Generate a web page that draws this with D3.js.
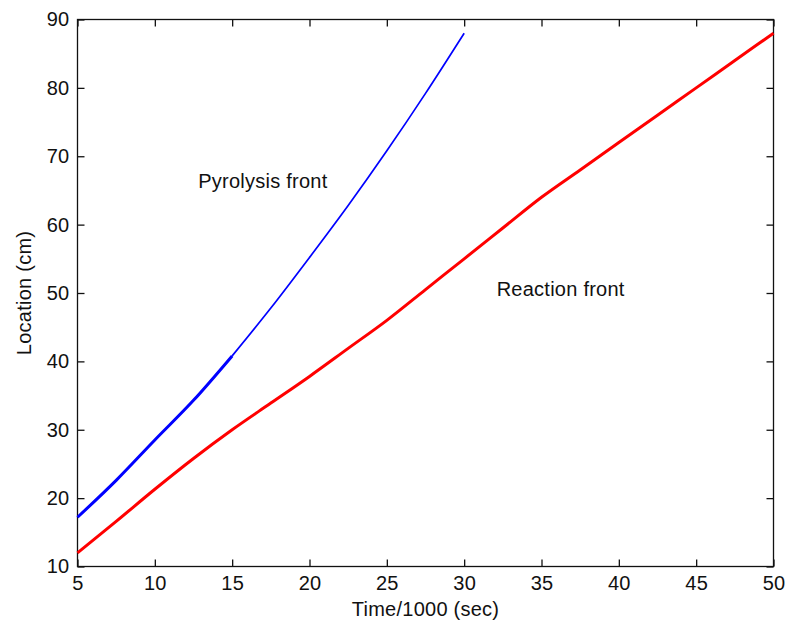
<!DOCTYPE html>
<html>
<head>
<meta charset="utf-8">
<script src="https://cdn.jsdelivr.net/npm/d3@7"></script>
<style>
  html, body { margin: 0; padding: 0; background: #fff; }
  svg { display: block; }
  text { font-family: "Liberation Sans", Arial, sans-serif; fill: #111; }
</style>
</head>
<body>
<script>
// ---- data ----
const reactionTime = [5, 7.5, 10, 12.5, 15, 17.5, 20, 22.5, 25, 27.5, 30, 32.5, 35, 37.5, 40, 42.5, 45, 47.5, 50];
const reactionLoc  = [12, 16.6, 21.3, 25.8, 30, 33.9, 37.8, 41.9, 46, 50.5, 55, 59.5, 64, 68, 72, 76, 80, 84, 88];
const pyroTime = [5, 7.5, 10, 12.5, 15, 17.5, 20, 22.5, 25, 27.5, 30];
const pyroLoc  = [17.2, 22.6, 28.5, 34.3, 40.8, 47.8, 55.2, 62.8, 70.8, 79.2, 88];
const xTicks = [5, 10, 15, 20, 25, 30, 35, 40, 45, 50];
const yTicks = [10, 20, 30, 40, 50, 60, 70, 80, 90];
const xLabel = "Time/1000 (sec)";
const yLabel = "Location (cm)";
const pyroLabel = "Pyrolysis front";
const reactionLabel = "Reaction front";

// ---- layout ----
const W = 786, H = 626;
const L = 77.5, R = 773.5, T = 19.5, B = 566.5;
const fs = 20;
const ls = "0.25px";

const svg = d3.select("body").append("svg").attr("width", W).attr("height", H);
const x = d3.scaleLinear().domain([5, 50]).range([L, R]);
const y = d3.scaleLinear().domain([10, 90]).range([B, T]);

const tickLen = 7;
svg.append("g").attr("transform", `translate(0,${B})`)
  .call(d3.axisBottom(x).tickValues(xTicks).tickSizeInner(-tickLen).tickSizeOuter(0))
  .call(g => g.selectAll("text").attr("dy", "0.71em").attr("y", 9));
svg.append("g").attr("transform", `translate(0,${T})`)
  .call(d3.axisTop(x).tickValues(xTicks).tickSizeInner(-tickLen).tickSizeOuter(0).tickFormat(""));
svg.append("g").attr("transform", `translate(${L},0)`)
  .call(d3.axisLeft(y).tickValues(yTicks).tickSizeInner(-tickLen).tickSizeOuter(0))
  .call(g => g.selectAll("text").attr("x", -8));
svg.append("g").attr("transform", `translate(${R},0)`)
  .call(d3.axisRight(y).tickValues(yTicks).tickSizeInner(-tickLen).tickSizeOuter(0).tickFormat(""));

svg.selectAll(".domain").remove();
svg.selectAll(".tick line").attr("stroke", "#111").attr("stroke-width", 1.3);
svg.selectAll(".tick text").attr("font-size", fs).attr("letter-spacing", ls)
  .attr("font-family", "Liberation Sans, Arial, sans-serif").attr("fill", "#111");

svg.append("rect").attr("x", L).attr("y", T).attr("width", R - L).attr("height", B - T)
  .attr("fill", "none").attr("stroke", "#111").attr("stroke-width", 1.3);

const line = d3.line().curve(d3.curveMonotoneX).x(d => x(d[0])).y(d => y(d[1]));

const reaction = reactionTime.map((t, i) => [t, reactionLoc[i]]);
svg.append("path").datum(reaction).attr("d", line)
  .attr("fill", "none").attr("stroke", "#ff0000").attr("stroke-width", 3).attr("stroke-linejoin", "round");

const pyro = pyroTime.map((t, i) => [t, pyroLoc[i]]);
const splitIdx = pyroTime.indexOf(15);
svg.append("path").datum(pyro.slice(0, splitIdx + 1)).attr("d", line)
  .attr("fill", "none").attr("stroke", "#0000ff").attr("stroke-width", 3).attr("stroke-linejoin", "round");
svg.append("path").datum(pyro.slice(splitIdx)).attr("d", line)
  .attr("fill", "none").attr("stroke", "#0000ff").attr("stroke-width", 1.7).attr("stroke-linejoin", "round");

svg.append("text").attr("x", x(12.8)).attr("y", y(65.3)).attr("font-size", fs).attr("letter-spacing", ls).text(pyroLabel);
svg.append("text").attr("x", x(32.1)).attr("y", y(49.6)).attr("font-size", fs).attr("letter-spacing", ls).text(reactionLabel);

svg.append("text").attr("x", (L + R) / 2).attr("y", 616).attr("text-anchor", "middle")
  .attr("font-size", fs).attr("letter-spacing", ls).text(xLabel);
svg.append("text").attr("transform", `translate(31,${(T + B) / 2}) rotate(-90)`)
  .attr("text-anchor", "middle").attr("font-size", fs).attr("letter-spacing", ls).text(yLabel);
</script>
</body>
</html>
